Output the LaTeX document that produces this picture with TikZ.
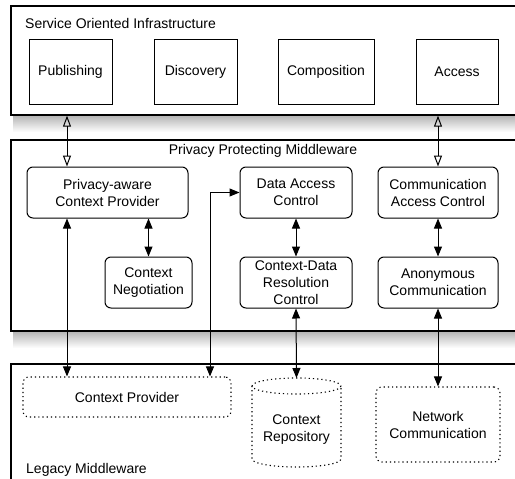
\documentclass[tikz,border=0pt]{standalone}
\usepackage{fontspec}
\setmainfont{Liberation Sans}
\usetikzlibrary{arrows.meta}
\usetikzlibrary{positioning}

\begin{document}
\begin{tikzpicture}[x=1pt,y=-1pt, every node/.style={align=center, font=\fontsize{14}{17}\selectfont},
    layer/.style={draw, line width=1.3pt, minimum width=519pt, inner sep=0pt},
    svcbox/.style={draw, line width=1pt, minimum height=65pt, inner sep=0pt},
    mwbox/.style={draw, rounded corners=6pt, line width=1pt, minimum height=51pt, inner sep=0pt},
    dots/.style={draw, dash pattern=on 1.2pt off 3pt, line width=1.1pt},
    oldbox/.style={dots, rounded corners=6pt, inner sep=0pt},
    both/.style={{Triangle[length=10pt,width=8pt]}-{Triangle[length=10pt,width=8pt]}, line width=1pt},
    openboth/.style={{Triangle[open,length=11pt,width=8pt]}-{Triangle[open,length=11pt,width=8pt]}, line width=1pt},
    shadow/.style={top color=black!30, bottom color=white, draw=none}]
    \useasboundingbox (0,0) rectangle (515,479);

    % Shadows under the layers
    \shade[shadow] (13,115) rectangle (530,132);
    \shade[shadow] (13,331) rectangle (530,348);

    % Service layer
    \node[layer, minimum height=109pt] (soi) at (270.5,60.5) {};
    \node[anchor=west, inner sep=0pt] (soilbl) at (25,23) {Service Oriented Infrastructure};
    \node[svcbox, minimum width=83pt] (pub) at (70.5,71.5) {Publishing};
    \node[svcbox, minimum width=83pt] (dis) at (195.5,71.5) {Discovery};
    \node[svcbox, minimum width=96pt] (comp) at (326,71.5) {Composition};
    \node[svcbox, minimum width=82pt] (acc) at (457,71.5) {Access};

    % Middleware layer
    \node[layer, minimum height=191pt] (ppm) at (270.5,235.5) {};
    \node (ppmlbl) at (263,151) {Privacy Protecting Middleware};
    \node[mwbox, minimum width=161pt] (pcp) at (107.5,192.5) {Privacy-aware\\Context Provider};
    \node[mwbox, minimum width=112pt] (dac) at (296,192.5) {Data Access\\Control};
    \node[mwbox, minimum width=120pt] (cac) at (438,192.5) {Communication\\Access Control};
    \node[mwbox, minimum width=87pt] (cn) at (148.5,282.5) {Context\\Negotiation};
    \node[mwbox, minimum width=112pt] (cdrc) at (296,282.5) {Context-Data\\Resolution\\Control};
    \node[mwbox, minimum width=120pt] (ac) at (438,282.5) {Anonymous\\Communication};

    % Legacy layer
    \node[layer, minimum height=126pt] (leg) at (270.5,427) {};
    \node[anchor=west, inner sep=0pt] (leglbl) at (26,470) {Legacy Middleware};
    \node[oldbox, minimum width=208pt, minimum height=40pt] (cp) at (127,397) {Context Provider};
    \node[oldbox, minimum width=124pt, minimum height=75pt] (nc) at (438,424.5) {Network\\Communication};
    \draw[dots] (296.5,386) ellipse[x radius=44.5, y radius=8];
    \draw[dots] (252,386) -- (252,459) arc[start angle=180, end angle=0, x radius=44.5, y radius=8] -- (341,386);
    \node (repo) at (296.5,430) {Context\\Repository};
    \coordinate (repotop) at (296.5,378);

    % Connectors
    \coordinate (ltrack) at (67,0);
    \coordinate (mtrack) at (210,0);
    \draw[openboth] (soi.south -| ltrack) -- (pcp.north -| ltrack);
    \draw[openboth] (soi.south -| cac.north) -- (cac.north);
    \draw[both] (pcp.south -| cn.north) -- (cn.north);
    \draw[both] (dac.south) -- (cdrc.north);
    \draw[both] (cac.south) -- (ac.north);
    \draw[both] (pcp.south -| ltrack) -- (cp.north -| ltrack);
    \draw[both] (dac.west) -| (cp.north -| mtrack);
    \draw[both] (cdrc.south) -- (repotop);
    \draw[both] (ac.south) -- (nc.north);
\end{tikzpicture}
\end{document}
